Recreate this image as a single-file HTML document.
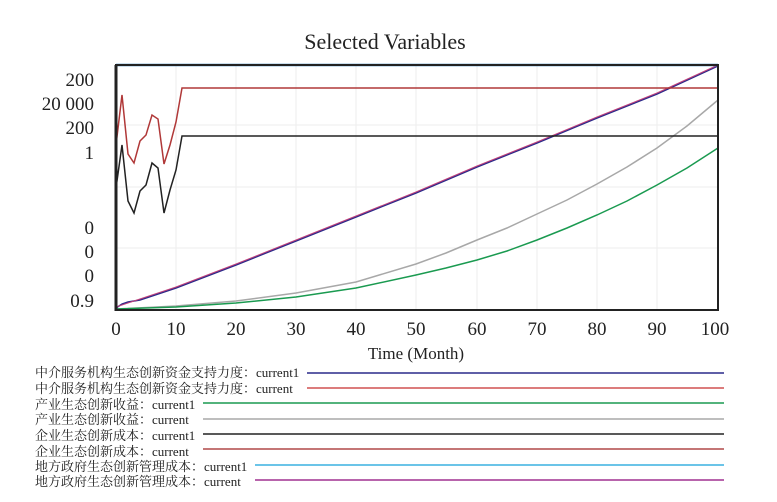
<!DOCTYPE html>
<html><head><meta charset="utf-8"><style>
html,body{margin:0;padding:0;background:#fff;}
svg{display:block;}
.s{font-family:"Liberation Serif","Noto Serif CJK SC",serif;}
</style></head><body>
<svg width="777" height="502" viewBox="0 0 777 502" xmlns="http://www.w3.org/2000/svg">
<text x="385" y="49" class="s" font-size="22" text-anchor="middle" fill="#222">Selected Variables</text>
<g stroke="#eee" stroke-width="1">
<line x1="176" y1="65" x2="176" y2="310"/><line x1="236" y1="65" x2="236" y2="310"/><line x1="296" y1="65" x2="296" y2="310"/><line x1="356" y1="65" x2="356" y2="310"/><line x1="416" y1="65" x2="416" y2="310"/><line x1="477" y1="65" x2="477" y2="310"/><line x1="537" y1="65" x2="537" y2="310"/><line x1="597" y1="65" x2="597" y2="310"/><line x1="657" y1="65" x2="657" y2="310"/>
<line x1="116" y1="125" x2="718" y2="125"/><line x1="116" y1="187" x2="718" y2="187"/><line x1="116" y1="248" x2="718" y2="248"/>
</g>
<g fill="none" stroke-width="1.5">
<polyline stroke="#a8a8a8" points="116,309 176,306 236,301 296,293 356,282 416,264 446,253 477,240 507,228 537,214 567,200 597,184 627,167 657,148 687,126 718,100"/>
<polyline stroke="#1a9a50" points="116,309 176,307 236,303 296,297 356,288 416,275 446,268 477,260 507,251 537,240 567,228 597,215 627,201 657,185 687,168 718,148"/>
<polyline stroke="#2a2a8a" points="116,308 122,304 128,302 140,300 152,296 164,292 176,288 236,265 296,241 356,217 416,193 477,167 537,143 597,118 657,94 718,66"/>
<polyline stroke="#c0407a" stroke-width="1" points="116,307 176,287 236,264 296,240 356,216 416,192 477,166 537,142 597,117 657,93 718,65"/>
<polyline stroke="#b03838" points="116,145 122,95 128,154 134,163 140,141 146,135 152,115 158,119 164,164 170,145 176,122 182,88 718,88"/>
<polyline stroke="#222" points="116,188 122,145 128,201 134,213 140,191 146,185 152,163 158,168 164,213 170,190 176,170 182,136 718,136"/>
</g>
<line x1="116" y1="65" x2="718" y2="65" stroke="#2a7ab8" stroke-width="2.5"/>
<rect x="116" y="65" width="602" height="245" fill="none" stroke="#222" stroke-width="2"/>
<line x1="116" y1="65" x2="116" y2="311" stroke="#222" stroke-width="3"/>
<g class="s" font-size="19" fill="#222" text-anchor="end">
<text x="94" y="86">200</text><text x="94" y="110">20 000</text><text x="94" y="134">200</text><text x="94" y="159">1</text>
<text x="94" y="234">0</text><text x="94" y="258">0</text><text x="94" y="282">0</text><text x="94" y="307">0.9</text>
</g>
<g class="s" font-size="19" fill="#222" text-anchor="middle">
<text x="116" y="335">0</text><text x="176" y="335">10</text><text x="236" y="335">20</text><text x="296" y="335">30</text><text x="356" y="335">40</text><text x="416" y="335">50</text><text x="477" y="335">60</text><text x="537" y="335">70</text><text x="597" y="335">80</text><text x="657" y="335">90</text><text x="715" y="335">100</text>
<text x="416" y="359" font-size="17">Time (Month)</text>
</g>
<g class="s" font-size="13" fill="#222">
<text x="35" y="377">中介服务机构生态创新资金支持力度：current1</text>
<text x="35" y="393">中介服务机构生态创新资金支持力度：current</text>
<text x="35" y="409">产业生态创新收益：current1</text>
<text x="35" y="424">产业生态创新收益：current</text>
<text x="35" y="440">企业生态创新成本：current1</text>
<text x="35" y="456">企业生态创新成本：current</text>
<text x="35" y="471">地方政府生态创新管理成本：current1</text>
<text x="35" y="486">地方政府生态创新管理成本：current</text>
</g>
<g stroke-width="1.5">
<line x1="307" y1="373" x2="724" y2="373" stroke="#2a2a8a"/>
<line x1="307" y1="388" x2="724" y2="388" stroke="#d05050"/>
<line x1="203" y1="403" x2="724" y2="403" stroke="#1a9a50"/>
<line x1="203" y1="419" x2="724" y2="419" stroke="#a8a8a8"/>
<line x1="203" y1="434" x2="724" y2="434" stroke="#222"/>
<line x1="203" y1="449" x2="724" y2="449" stroke="#b04848"/>
<line x1="255" y1="465" x2="724" y2="465" stroke="#3ab0e0"/>
<line x1="255" y1="480" x2="724" y2="480" stroke="#a03090"/>
</g>
</svg>
</body></html>
